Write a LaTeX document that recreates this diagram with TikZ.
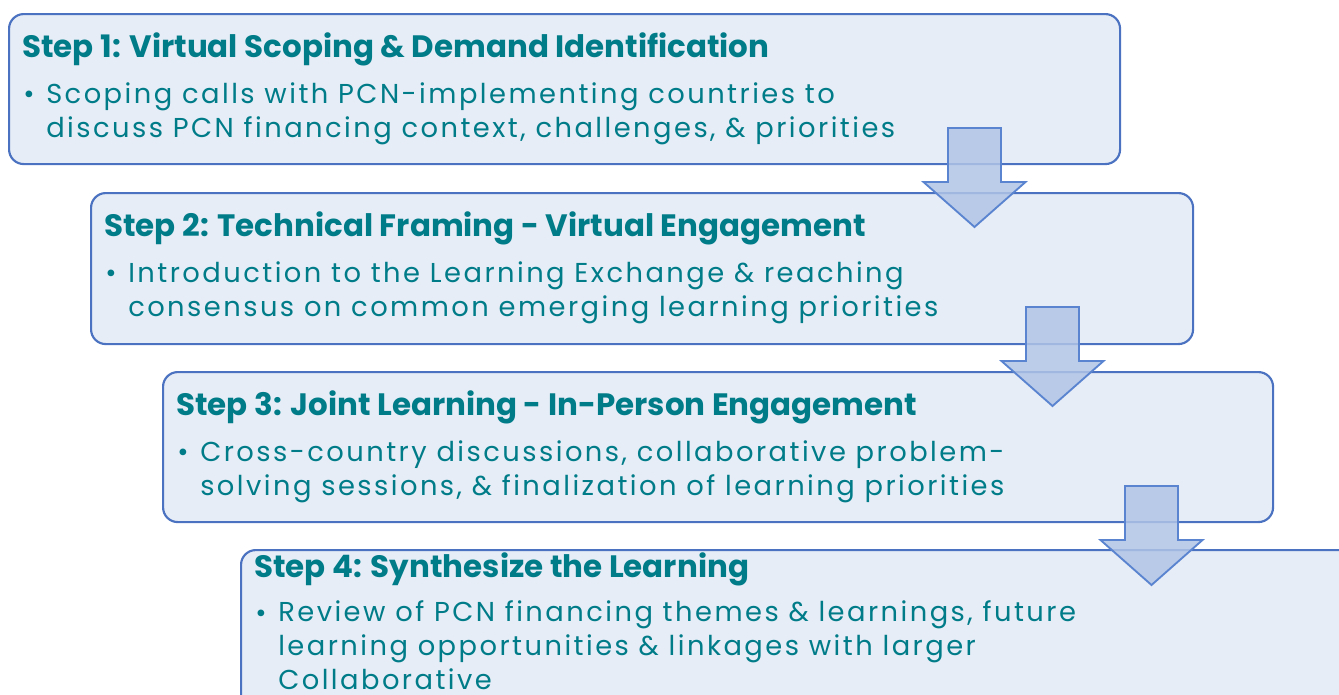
\documentclass[tikz,border=0pt]{standalone}
\usepackage{fontspec}
\setmainfont{Poppins}
\newfontfamily\itemfont[LetterSpace=9]{Poppins}
\usetikzlibrary{positioning}

\definecolor{boxfill}{RGB}{231,237,247}
\definecolor{boxline}{RGB}{74,114,192}
\definecolor{arrowfill}{RGB}{176,196,230}
\definecolor{arrowline}{RGB}{90,132,207}
\definecolor{stepteal}{RGB}{0,124,137}

\tikzset{
  stepbox/.style={draw=boxline, fill=boxfill, line width=1.6pt, rounded corners=11pt,
    anchor=north west, inner sep=0pt},
  steptitle/.style={anchor=base west, inner sep=0pt, text=stepteal,
    font=\fontsize{23.2}{27}\selectfont\bfseries},
  stepitem/.style={anchor=base west, inner sep=0pt, text=stepteal, align=left,
    font=\itemfont\fontsize{20.5}{25.5}\selectfont},
  downarrow/.style={draw=arrowline, fill=arrowfill, fill opacity=0.85, line width=1.4pt}
}

\begin{document}
\begin{tikzpicture}[x=0.75pt, y=-0.75pt]
  \def\u{0.75pt}
  \useasboundingbox (0,0) rectangle (1339,694);
  \clip (0,0) rectangle (1339,694);

  % the four step boxes
  \node[stepbox, minimum width=1111*\u, minimum height=150*\u] (box1) at (8,13) {};
  \node[stepbox, minimum width=1102*\u, minimum height=151*\u] (box2) at (90,192) {};
  \node[stepbox, minimum width=1110*\u, minimum height=150*\u] (box3) at (162,371) {};
  \node[stepbox, minimum width=1120*\u, minimum height=160*\u] (box4) at (240,549) {};

  % step 1 (item nodes sit on the baseline of their last line)
  \node[steptitle] (t1) at (22,57) {Step 1: Virtual Scoping \& Demand Identification};
  \node[stepitem] (d1) at (23,103) {•};
  \node[stepitem] (i1) at (46,137) {Scoping calls with PCN-implementing countries to\\discuss PCN financing context, challenges, \& priorities};

  % step 2
  \node[steptitle] (t2) at (104,236) {Step 2: Technical Framing - Virtual Engagement};
  \node[stepitem] (d2) at (105,282) {•};
  \node[stepitem] (i2) at (128,316) {Introduction to the Learning Exchange \& reaching\\consensus on common emerging learning priorities};

  % step 3
  \node[steptitle] (t3) at (176,415) {Step 3: Joint Learning - In-Person Engagement};
  \node[stepitem] (d3) at (177,461) {•};
  \node[stepitem] (i3) at (200,495) {Cross-country discussions, collaborative problem-\\solving sessions, \& finalization of learning priorities};

  % step 4
  \node[steptitle] (t4) at (254,577) {Step 4: Synthesize the Learning};
  \node[stepitem] (d4) at (255,622) {•};
  \node[stepitem] (i4) at (278,689) {Review of PCN financing themes \& learnings, future\\learning opportunities \& linkages with larger\\Collaborative};

  % block arrows between the steps
  \foreach \cx/\ty in {974.5/128, 1052.5/307, 1151.5/486}{
    \draw[downarrow] (\cx-26.5,\ty) -- (\cx+26.5,\ty) -- (\cx+26.5,\ty+54)
      -- (\cx+51,\ty+54) -- (\cx,\ty+99) -- (\cx-51,\ty+54)
      -- (\cx-26.5,\ty+54) -- cycle;
  }
\end{tikzpicture}
\end{document}
